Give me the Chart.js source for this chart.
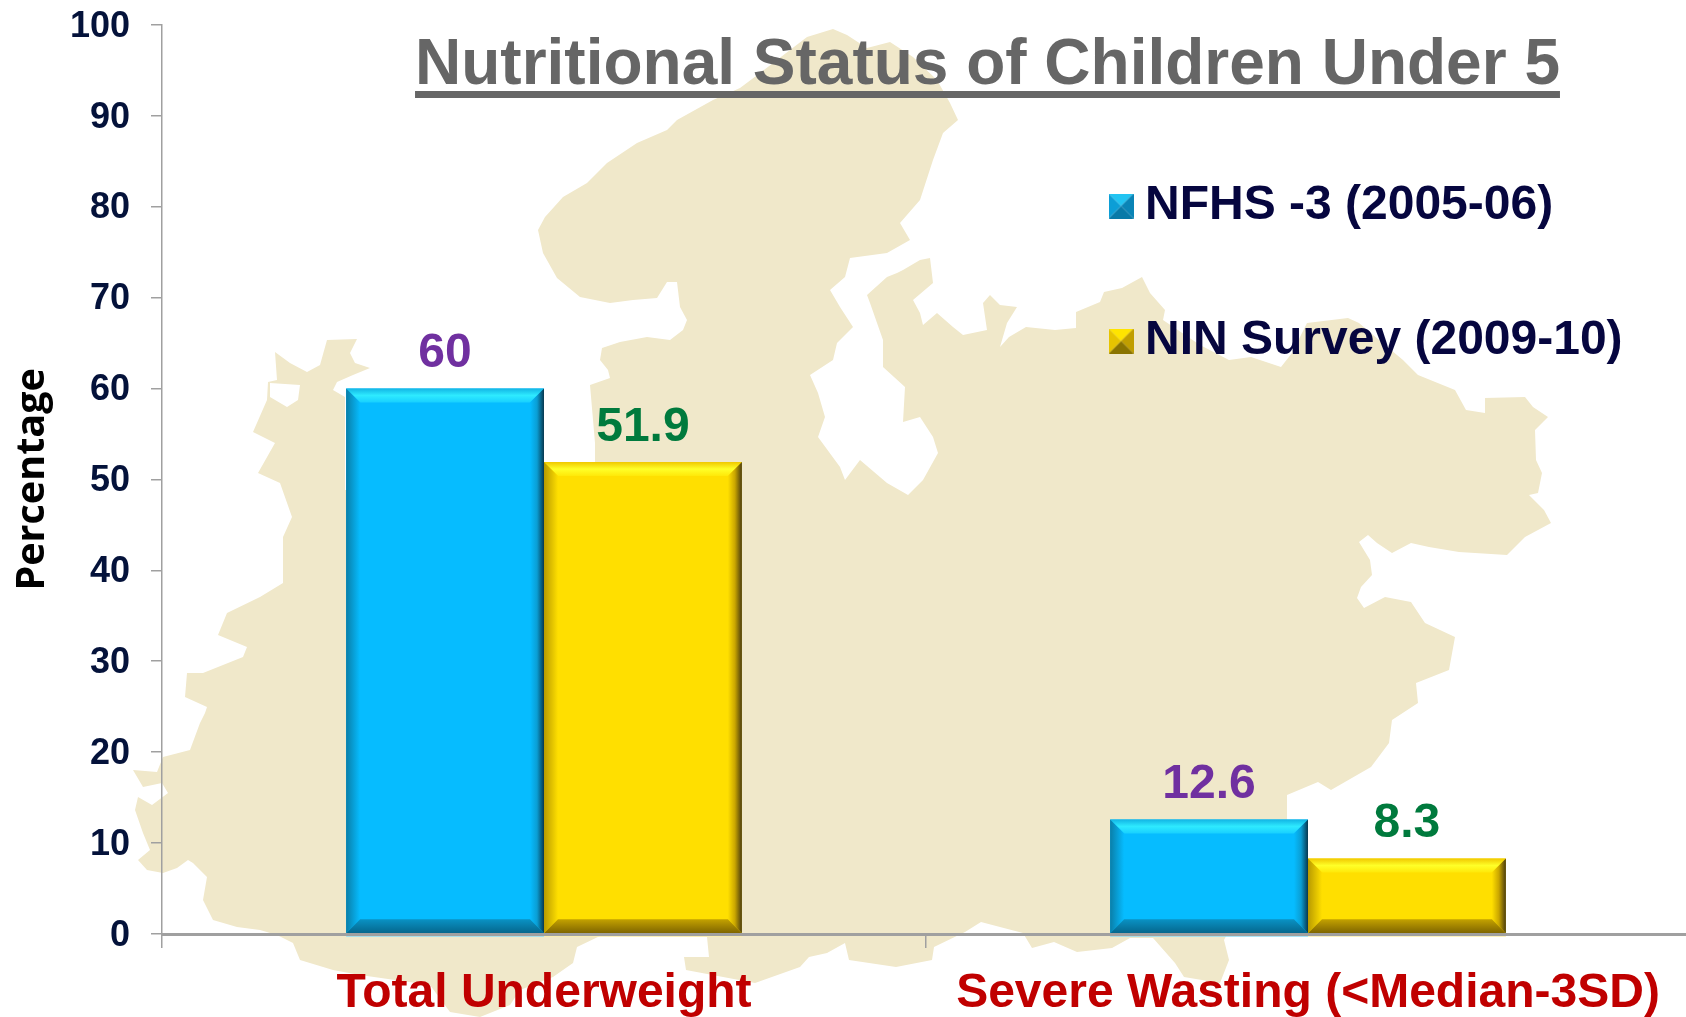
<!DOCTYPE html>
<html><head><meta charset="utf-8">
<style>html,body{margin:0;padding:0;background:#fff;overflow:hidden;width:1686px;height:1017px}canvas{display:block}</style>
<script src="https://cdn.jsdelivr.net/npm/chart.js@4/dist/chart.umd.js"></script>
</head><body><canvas id="c" width="1690" height="1017" style="width:1690px;height:1017px"></canvas>
<script>
const categories = ['Total Underweight', 'Severe Wasting (<Median-3SD)'];
const nfhsLabel = 'NFHS -3 (2005-06)';
const ninLabel = 'NIN Survey (2009-10)';
const nfhsValues = [60, 12.6];
const ninValues = [51.9, 8.3];
const chartTitle = 'Nutritional Status of Children Under 5';
const yAxisTitle = 'Percentage';

const FONT = '"Liberation Sans", Arial, sans-serif';

// decorative background map silhouette (page pixels)
const mapOutline = [[327,340],[357,339],[350,353],[355,363],[370,368],[353,375],[337,382],[333,390],[345,397],[345,490],[595,490],[595,443],[590,385],[610,378],[608,370],[600,360],[602,348],[620,342],[647,337],[670,340],[683,330],[687,320],[680,307],[677,282],[667,282],[657,298],[633,300],[610,303],[580,297],[557,278],[543,253],[538,230],[545,217],[563,197],[587,183],[607,163],[637,143],[667,130],[677,120],[713,100],[740,88],[760,73],[807,37],[833,29],[847,35],[867,48],[890,42],[913,57],[937,80],[950,103],[958,120],[943,133],[933,160],[920,200],[900,223],[910,240],[887,253],[850,258],[845,277],[830,290],[840,307],[853,327],[837,343],[833,360],[810,375],[818,393],[825,417],[818,437],[840,467],[845,480],[860,460],[887,483],[908,495],[923,480],[938,453],[933,437],[920,417],[903,422],[905,387],[883,367],[883,340],[870,303],[867,295],[887,277],[897,273],[903,270],[920,260],[930,258],[933,283],[913,300],[920,313],[923,325],[937,313],[953,327],[963,335],[987,330],[983,303],[990,295],[1000,305],[1017,307],[1007,323],[1000,347],[1009,337],[1026,327],[1055,330],[1076,328],[1076,312],[1100,302],[1104,292],[1122,288],[1142,277],[1150,293],[1165,310],[1163,320],[1200,345],[1229,360],[1251,357],[1281,367],[1292,353],[1307,323],[1348,318],[1359,323],[1385,345],[1403,360],[1418,375],[1455,390],[1466,410],[1485,413],[1485,398],[1525,397],[1533,407],[1548,417],[1535,430],[1536,460],[1542,473],[1538,493],[1529,495],[1544,510],[1551,523],[1525,537],[1507,555],[1459,552],[1429,547],[1411,543],[1392,553],[1377,543],[1368,535],[1359,542],[1370,560],[1372,575],[1361,587],[1357,598],[1364,608],[1385,597],[1411,602],[1425,623],[1455,637],[1449,670],[1416,683],[1418,703],[1392,720],[1389,743],[1371,767],[1331,790],[1318,782],[1287,795],[1287,820],[1224,940],[1229,960],[1220,983],[1184,977],[1175,963],[1153,938],[1130,938],[1112,948],[1077,952],[1054,942],[1032,948],[1023,933],[1000,927],[981,922],[965,932],[934,947],[932,960],[896,967],[849,960],[845,943],[827,953],[809,957],[800,967],[755,983],[686,970],[684,957],[709,957],[707,937],[600,936],[577,947],[573,963],[553,977],[520,990],[510,1005],[480,1017],[450,1012],[430,985],[360,975],[333,970],[300,960],[293,943],[277,935],[260,930],[237,927],[213,920],[203,900],[207,877],[193,863],[188,860],[177,868],[163,873],[147,870],[138,860],[150,850],[143,833],[135,810],[138,797],[152,805],[168,793],[162,783],[143,787],[133,770],[157,772],[163,757],[190,750],[200,723],[205,713],[207,707],[185,697],[187,673],[203,673],[243,657],[247,647],[218,635],[227,613],[260,597],[283,583],[283,537],[292,517],[280,483],[258,473],[275,443],[253,432],[267,400],[268,382],[277,380],[275,352],[290,363],[307,372],[320,365]];
const mapHole = [[270,383],[300,385],[298,400],[287,407],[270,397]];

const bevelBlue = {top:['#12b4e4','#2eeaff','#18d0ff'],left:['#0a7ea8','#06bcff'],right:['#06bcff','#0a9ed4','#08384f'],bottom:['#0a92c4','#05668c'],shadow:'#8edcf4'};
const bevelYellow = {top:['#f0c800','#ffff28','#ffe808'],left:['#b89a00','#ffdf00'],right:['#ffdf00','#caa600','#4a3c10'],bottom:['#c4a200','#7e6400'],shadow:'#fdeea6'};

function pyramid(top,left,right,bottom){
  const s=25, cv=document.createElement('canvas'); cv.width=s; cv.height=s;
  const g=cv.getContext('2d'), m=s/2;
  [[top,[[0,0],[s,0]]],[right,[[s,0],[s,s]]],[bottom,[[s,s],[0,s]]],[left,[[0,s],[0,0]]]].forEach(([col,p])=>{
    g.fillStyle=col; g.beginPath(); g.moveTo(p[0][0],p[0][1]); g.lineTo(p[1][0],p[1][1]); g.lineTo(m,m); g.closePath(); g.fill();
  });
  return cv;
}

const mapPlugin = { id:'mapBg', beforeDraw(chart){
  const c=chart.ctx; c.save(); c.fillStyle='#f0e8ca'; c.beginPath();
  [mapOutline,mapHole].forEach(r=>{ r.forEach((p,i)=> i?c.lineTo(p[0],p[1]):c.moveTo(p[0],p[1])); c.closePath(); });
  c.fill('evenodd'); c.restore();
}};

function gradientFill(c,pts,x0,y0,x1,y1,stops){
  const g=c.createLinearGradient(x0,y0,x1,y1);
  stops.forEach((s,i)=>g.addColorStop(i/(stops.length-1),s));
  c.fillStyle=g; c.beginPath(); pts.forEach((p,i)=>i?c.lineTo(p[0],p[1]):c.moveTo(p[0],p[1])); c.closePath(); c.fill();
}

const BEVEL=14;
const bevelPlugin = { id:'bevel', afterDatasetsDraw(chart){
  const c=chart.ctx;
  chart.data.datasets.forEach((ds,di)=>{
    chart.getDatasetMeta(di).data.forEach((el,i)=>{
      const p=el.getProps(['x','y','base','width'],true);
      const l=p.x-p.width/2,r=p.x+p.width/2,t=p.y,b=p.base,B=BEVEL,st=ds.bevel;
      c.save();
      gradientFill(c,[[l,t],[r,t],[r-B,t+B],[l+B,t+B]],0,t,0,t+B,st.top);
      gradientFill(c,[[l,t],[l+B,t+B],[l+B,b-B],[l,b]],l,0,l+B,0,st.left);
      gradientFill(c,[[r,t],[r-B,t+B],[r-B,b-B],[r,b]],r-B,0,r,0,st.right);
      gradientFill(c,[[l,b],[l+B,b-B],[r-B,b-B],[r,b]],0,b-B,0,b,st.bottom);
      c.fillStyle=st.shadow; c.fillRect(l,b,r-l,3.5);
      c.fillStyle=ds.valueColor; c.font='bold 48px '+FONT; c.textAlign='center'; c.textBaseline='alphabetic';
      c.fillText(String(ds.data[i]),p.x,t-21.5);
      c.restore();
    });
  });
}};

const placePlugin = { id:'place',
  afterLayout(chart){
    const lg=chart.legend, pad=chart.options.plugins.legend.labels.padding;
    lg.left=1121-pad; lg.right=1680; lg.top=182-pad; lg.bottom=1000;
    const t=chart.titleBlock; t.left=987.5-700; t.right=987.5+700; t.top=28;
  },
  afterDraw(chart){
    const c=chart.ctx,o=chart.options.plugins.title; c.save();
    c.font='bold '+o.font.size+'px '+FONT;
    const w=c.measureText(o.text).width;
    c.fillStyle=o.color; c.fillRect(987.5-w/2,91,w,7); c.restore();
  }
};

new Chart(document.getElementById('c'),{
  type:'bar',
  data:{labels:categories,datasets:[
    {label:nfhsLabel,data:nfhsValues,backgroundColor:'#06bcff',borderWidth:0,valueColor:'#7030a0',bevel:bevelBlue,pointStyle:pyramid('#22c4f2','#0c9ed6','#0a84b6','#087aa8')},
    {label:ninLabel,data:ninValues,backgroundColor:'#ffdf00',borderWidth:0,valueColor:'#007a3d',bevel:bevelYellow,pointStyle:pyramid('#ffe400','#e6c400','#c09e00','#8a7400')}
  ]},
  options:{
    responsive:false,animation:false,
    layout:{padding:{top:24.7,left:0,right:0,bottom:0}},
    datasets:{bar:{categoryPercentage:0.518,barPercentage:1}},
    plugins:{
      tooltip:{enabled:false},
      title:{display:true,text:chartTitle,color:'#666666',font:{size:64,weight:'bold',family:FONT},padding:{top:0,bottom:-76.8}},
      legend:{display:true,position:'chartArea',align:'start',onClick:null,
        labels:{usePointStyle:true,pointStyleWidth:0.01,padding:87,color:'#06063f',font:{size:48,weight:'bold',family:FONT}}}
    },
    scales:{
      x:{
        afterFit(a){a.height=83;a.paddingLeft=0;a.paddingRight=0;},
        grid:{display:true,drawOnChartArea:false,drawTicks:true,tickLength:14,color:'#a0a0a0',lineWidth:1.5,offset:true},
        border:{display:true,color:'#a0a0a0',width:3,z:2},
        ticks:{color:'#c00000',font:{size:48,weight:'bold',family:FONT},padding:16.6,maxRotation:0,autoSkip:false}
      },
      y:{
        min:0,max:100,
        afterFit(a){a.width=162;a.paddingTop=0;a.paddingBottom=0;},
        grid:{display:true,drawOnChartArea:false,drawTicks:true,tickLength:11,color:'#a0a0a0',lineWidth:1.5},
        border:{display:true,color:'#a0a0a0',width:1.5,z:2},
        ticks:{stepSize:10,color:'#04123a',font:{size:36,weight:'bold',family:FONT},padding:21,labelOffset:2},
        title:{display:true,text:yAxisTitle,color:'#000000',font:{size:39.5,weight:'bold',family:'"Open Sans"'},padding:{top:9,bottom:0}}
      }
    }
  },
  plugins:[mapPlugin,bevelPlugin,placePlugin]
});
</script></body></html>
